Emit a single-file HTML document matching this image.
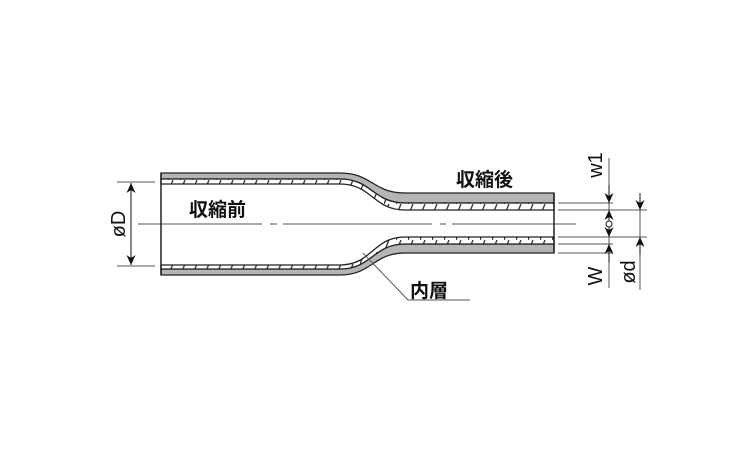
<!DOCTYPE html>
<html><head><meta charset="utf-8"><style>
html,body{margin:0;padding:0;background:#fff;}
svg{display:block;}
text{font-family:"Liberation Sans","Noto Sans CJK JP",sans-serif;fill:#111;}
</style></head><body>
<svg width="750" height="450" viewBox="0 0 750 450" xmlns="http://www.w3.org/2000/svg">
<defs>
<pattern id="h" patternUnits="userSpaceOnUse" width="12" height="12">
<rect width="12" height="12" fill="#fff"/>
<line x1="0" y1="12" x2="5" y2="0" stroke="#333" stroke-width="1.3"/>
</pattern>
<marker id="a" viewBox="0 0 10 10" refX="10" refY="5" markerWidth="10" markerHeight="10" markerUnits="userSpaceOnUse" orient="auto-start-reverse"><path d="M0,0.5 L10,5 L0,9.5 L3,5 Z" fill="#111"/></marker>
</defs>
<line x1="138" y1="224" x2="262" y2="224" stroke="#555" stroke-width="1"/>
<line x1="270" y1="224" x2="277" y2="224" stroke="#555" stroke-width="1"/>
<line x1="283" y1="224" x2="432" y2="224" stroke="#555" stroke-width="1"/>
<line x1="440" y1="224" x2="446" y2="224" stroke="#555" stroke-width="1"/>
<line x1="452" y1="224" x2="576" y2="224" stroke="#555" stroke-width="1"/>
<path d="M161,173 H340 C372,173 373,193 405,193 H554 V203 H405 C373,203 372,179 340,179 H161 Z" fill="#b5b5b5" stroke="#222" stroke-width="1.3"/>
<path d="M161,179 H340 C372,179 373,203 405,203 H554 V210 H405 C373,210 372,184 340,184 H161 Z" fill="url(#h)" stroke="#222" stroke-width="1.3"/>
<path d="M161,269 H340 C372,269 373,244 405,244 H554 V253 H405 C373,253 372,275 340,275 H161 Z" fill="#b5b5b5" stroke="#222" stroke-width="1.3"/>
<path d="M161,265 H340 C372,265 373,237 405,237 H554 V244 H405 C373,244 372,269 340,269 H161 Z" fill="url(#h)" stroke="#222" stroke-width="1.3"/>
<line x1="161" y1="173" x2="161" y2="275" stroke="#222" stroke-width="1.5"/>
<line x1="554" y1="193" x2="554" y2="253" stroke="#222" stroke-width="1.5"/>
<line x1="117" y1="182" x2="155" y2="182" stroke="#555" stroke-width="1"/>
<line x1="117" y1="266" x2="155" y2="266" stroke="#555" stroke-width="1"/>
<line x1="131" y1="183" x2="131" y2="265" stroke="#111" stroke-width="1" marker-start="url(#a)" marker-end="url(#a)"/>
<text transform="translate(125,224) rotate(-90)" font-size="20" text-anchor="middle">øD</text>
<line x1="558" y1="203" x2="613" y2="203" stroke="#555" stroke-width="1"/>
<line x1="558" y1="210" x2="647" y2="210" stroke="#555" stroke-width="1"/>
<line x1="558" y1="237" x2="647" y2="237" stroke="#555" stroke-width="1"/>
<line x1="558" y1="244" x2="613" y2="244" stroke="#555" stroke-width="1"/>
<line x1="558" y1="253" x2="613" y2="253" stroke="#555" stroke-width="1"/>
<line x1="609" y1="158" x2="609" y2="288" stroke="#555" stroke-width="1"/>
<line x1="609" y1="185" x2="609" y2="203" stroke="#111" marker-end="url(#a)"/>
<line x1="609" y1="220" x2="609" y2="210" stroke="#111" marker-end="url(#a)"/>
<line x1="609" y1="228" x2="609" y2="237" stroke="#111" marker-end="url(#a)"/>
<line x1="609" y1="262" x2="609" y2="244" stroke="#111" marker-end="url(#a)"/>
<circle cx="609" cy="224" r="3" fill="#fff" stroke="#111"/>
<line x1="640" y1="193" x2="640" y2="290" stroke="#555" stroke-width="1"/>
<line x1="640" y1="193" x2="640" y2="210" stroke="#111" marker-end="url(#a)"/>
<line x1="640" y1="255" x2="640" y2="237" stroke="#111" marker-end="url(#a)"/>
<text transform="translate(602,165) rotate(-90)" font-size="20" text-anchor="middle">w1</text>
<text transform="translate(602,276) rotate(-90)" font-size="20" text-anchor="middle">W</text>
<text transform="translate(635,272) rotate(-90)" font-size="20" text-anchor="middle">ød</text>
<text x="189" y="216" font-size="19" font-weight="600">収縮前</text>
<text x="456" y="186" font-size="19" font-weight="600">収縮後</text>
<polyline points="363,253 408,300 470,300" fill="none" stroke="#555" stroke-width="1"/>
<text x="410" y="297" font-size="19" font-weight="600">内層</text>
</svg>
</body></html>
